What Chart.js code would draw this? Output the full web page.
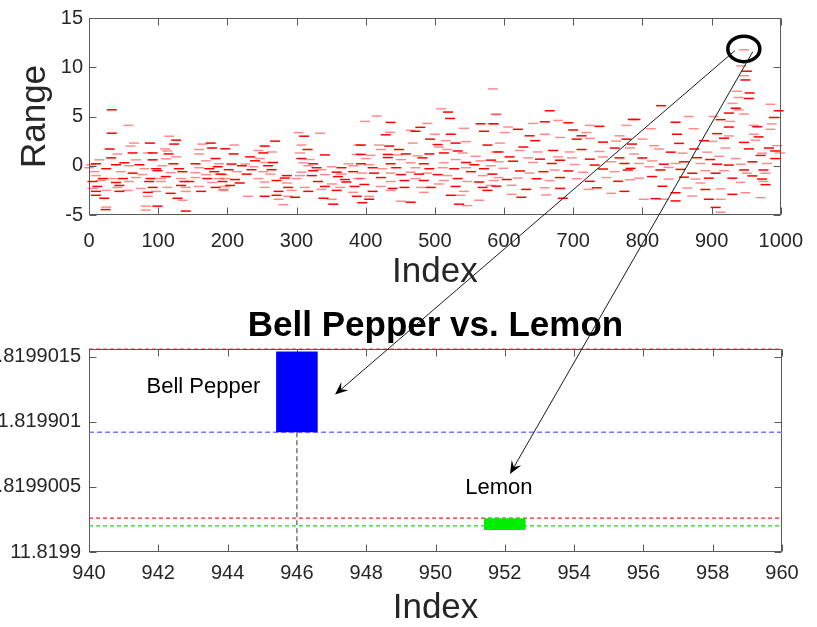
<!DOCTYPE html>
<html>
<head>
<meta charset="utf-8">
<script src="https://cdn.jsdelivr.net/npm/chart.js@4.4.1/dist/chart.umd.min.js"></script>
<style>
  html, body { margin: 0; padding: 0; background: #fff; overflow: hidden; }
  #wrap { position: relative; width: 817px; height: 627px; overflow: hidden; }
  #topBox { position: absolute; left: 0; top: 0; }
  #botBox { position: absolute; left: -20px; top: 290px; }
  #overlay { position: absolute; left: 0; top: 0; pointer-events: none; }
</style>
</head>
<body>
<div id="wrap">
  <div id="topBox"><canvas id="topChart" width="817" height="290"></canvas></div>
  <div id="botBox"><canvas id="botChart" width="837" height="337"></canvas></div>
  <canvas id="overlay" width="817" height="627"></canvas>
</div>
<script>
// ---- top panel: range dashes [index, range] ----
const rangeDashes = [
  [33,5.68],[57,4.1],[33,3.3],[116,3.0],[126,2.6],[65,2.3],[88,2.3],[60,2.0],[123,2.2],[110,1.7],
  [30,1.7],[41,1.2],[63,1.3],[85,1.3],[92,1.3],[113,1.5],[115,1.2],[126,0.9],[32,0.8],[15,0.6],
  [51,0.3],[68,0.6],[92,0.6],[111,0.7],[122,0.2],[3,0.1],[10,0.2],[0,-0.2],[39,0.1],[58,0.0],
  [73,0.1],[80,-0.3],[97,-0.3],[106,0.0],[130,-0.3],[8,-0.6],[25,-0.3],[46,-0.6],[63,-0.75],[77,-0.9],
  [99,-0.5],[118,-0.7],[135,-0.6],[10,-1.0],[20,-1.3],[34,-1.3],[49,-1.3],[68,-1.2],[89,-1.3],[104,-1.3],
  [111,-1.1],[133,-1.3],[5,-1.6],[17,-1.5],[39,-1.7],[58,-1.6],[87,-1.6],[104,-1.6],[138,-1.6],[5,-2.3],
  [12,-2.1],[41,-2.2],[44,-2.0],[75,-2.3],[92,-2.2],[113,-2.2],[133,-2.0],[140,-2.2],[10,-2.6],[25,-2.5],
  [44,-2.6],[56,-2.5],[85,-2.7],[97,-2.6],[118,-2.8],[140,-2.6],[10,-3.0],[85,-3.1],[128,-3.3],[135,-3.5],
  [22,-3.3],[25,-4.2],[24,-4.45],[82,-4.1],[99,-4.1],[82,-4.5],[140,-4.6],
  [164,2.2],[176,2.3],[159,1.65],[178,1.8],[159,1.2],[183,0.73],[169,0.5],[154,0.2],[188,0.2],[186,-0.1],
  [159,-0.2],[174,-0.3],[154,-0.7],[181,-0.6],[169,-0.9],[190,-0.85],[154,-1.2],[171,-1.3],[188,-1.3],[145,-1.6],
  [178,-1.7],[193,-1.6],[159,-2.1],[183,-2.2],[195,-2.4],[162,-2.6],
  [303,3.37],[311,3.0],[334,3.3],[269,2.5],[210,2.1],[254,2.0],[307,2.1],[316,1.65],[389,2.1],[197,1.72],
  [245,1.55],[252,1.3],[264,1.4],[209,1.2],[305,1.3],[341,1.1],[387,1.15],[233,0.9],[247,0.73],[307,0.73],
  [319,0.63],[240,0.5],[254,0.33],[266,0.33],[310,0.3],[324,0.2],[375,0.2],[206,0.17],[226,0.17],[221,0.0],
  [238,-0.1],[259,0.0],[317,0.0],[329,-0.2],[351,-0.1],[365,-0.2],[382,0.0],[202,-0.4],[214,-0.6],[235,-0.4],
  [252,-0.6],[264,-0.4],[307,-0.65],[324,-0.5],[336,-0.4],[358,-0.65],[365,-0.85],[382,-0.6],[194,-0.9],[228,-0.85],
  [262,-0.85],[286,-1.0],[305,-1.0],[322,-1.0],[341,-0.9],[360,-1.1],[197,-1.3],[211,-1.4],[245,-1.3],[283,-1.25],
  [300,-1.3],[370,-1.4],[389,-1.3],[218,-1.75],[254,-1.65],[271,-1.5],[286,-1.75],[331,-1.6],[351,-1.85],[372,-1.65],
  [197,-2.1],[204,-2.0],[254,-2.2],[288,-2.2],[312,-2.2],[341,-2.1],[363,-2.2],[384,-2.1],[194,-2.5],[274,-2.6],
  [293,-2.5],[317,-2.6],[336,-2.4],[358,-2.5],[382,-2.7],[271,-3.0],[288,-3.1],[298,-3.2],[274,-3.4],[339,-3.3],
  [351,-3.4],[387,-3.1],[230,-3.1],[254,-3.1],[281,-3.95],[353,-3.9],
  [509,5.78],[519,5.45],[416,5.05],[522,4.8],[399,4.5],[436,4.4],[489,4.3],[479,3.9],[465,3.6],[472,3.5],
  [435,3.4],[429,3.14],[500,3.2],[523,3.2],[542,3.8],[566,4.26],[583,4.26],[571,3.5],[588,5.2],[493,2.7],
  [516,2.55],[530,2.3],[545,2.45],[393,2.1],[419,2.1],[434,2.0],[468,2.3],[504,2.15],[506,1.9],[576,2.1],
  [422,1.65],[448,1.65],[518,1.65],[533,1.5],[540,1.3],[513,1.3],[588,1.4],[393,1.15],[407,1.06],[432,1.15],
  [446,1.1],[458,1.2],[475,1.0],[492,1.2],[559,0.96],[581,0.57],[400,0.73],[432,0.83],[451,0.63],[482,0.8],
  [530,0.63],[545,0.33],[566,0.5],[393,0.2],[405,0.1],[436,0.2],[465,0.3],[484,0.2],[513,0.3],[557,0.1],
  [581,0.0],[410,-0.2],[424,-0.3],[444,-0.2],[472,-0.2],[492,-0.3],[511,-0.2],[528,-0.3],[545,-0.2],[571,-0.3],
  [395,-0.75],[412,-0.75],[436,-0.75],[451,-0.9],[465,-0.65],[477,-0.85],[489,-0.75],[504,-0.9],[518,-1.0],[552,-0.6],
  [569,-1.0],[583,-0.85],[393,-1.3],[422,-1.2],[436,-1.6],[456,-1.5],[472,-1.3],[484,-1.5],[513,-1.5],[533,-1.3],
  [547,-1.6],[564,-1.65],[585,-1.5],[398,-1.9],[422,-2.1],[439,-2.3],[480,-2.2],[494,-2.2],[506,-1.85],[530,-2.1],
  [542,-2.6],[569,-2.2],[581,-2.0],[410,-2.6],[436,-2.5],[456,-2.2],[484,-2.7],[523,-3.0],[537,-3.0],[576,-2.5],
  [405,-3.1],[405,-3.4],[451,-3.6],[465,-3.7],[564,-3.5],[535,-3.9],[547,-4.05],[395,-3.75],
  [584,7.8],[666,5.58],[589,5.25],[585,4.26],[642,4.3],[659,4.46],[678,4.6],[693,4.36],[724,4.1],[738,4.0],
  [777,4.1],[786,4.7],[606,3.93],[620,3.7],[601,3.37],[700,3.63],[719,3.37],[712,3.04],[767,3.04],[637,3.04],
  [659,3.2],[645,2.55],[681,2.87],[705,2.7],[724,2.78],[743,2.4],[762,2.5],[777,2.7],[594,2.3],[628,1.9],
  [623,1.55],[592,1.4],[649,1.4],[671,1.55],[695,1.4],[712,1.65],[738,1.45],[760,1.8],[782,1.8],[608,0.9],
  [635,0.8],[652,0.67],[678,0.9],[681,0.56],[698,0.8],[724,0.67],[743,0.9],[767,0.8],[592,0.4],[613,0.46],
  [642,0.33],[669,0.23],[702,0.13],[731,0.07],[755,0.4],[774,0.23],[599,-0.26],[623,-0.53],[637,-0.75],[657,-0.6],
  [673,-0.43],[693,-0.53],[714,-0.66],[743,-0.33],[760,-0.6],[779,-0.43],[592,-1.2],[604,-1.4],[620,-1.25],[647,-1.32],
  [666,-1.5],[681,-1.2],[705,-1.32],[724,-1.58],[748,-1.2],[765,-1.58],[782,-1.42],[589,-2.07],[611,-1.98],[632,-2.4],
  [659,-2.24],[681,-2.3],[722,-2.4],[734,-2.24],[755,-2.8],[774,-2.6],[611,-2.9],[625,-3.2],[661,-2.97],[685,-3.3],
  [947,11.78],[946,10.56],[943,10.13],[951,9.6],[947,9.14],[949,8.71],[937,7.56],[955,7.39],[939,6.93],[954,6.83],
  [985,6.24],[997,5.58],[930,6.33],[935,5.84],[939,5.67],[925,5.35],[947,5.25],[827,6.1],[867,5.0],[848,4.42],
  [874,3.76],[790,4.7],[812,3.76],[850,3.2],[903,5.0],[913,4.68],[927,4.5],[925,3.93],[961,4.1],[966,3.96],
  [987,4.25],[990,4.9],[985,3.7],[908,3.26],[925,3.03],[918,2.8],[961,3.2],[968,2.93],[963,2.6],[947,2.37],
  [901,2.47],[889,2.54],[920,1.8],[983,1.8],[995,2.04],[992,1.5],[999,1.3],[971,1.05],[800,2.7],[785,2.2],
  [817,2.04],[853,2.27],[824,1.7],[841,1.38],[858,1.28],[875,1.7],[894,1.38],[898,0.63],[911,0.96],[879,0.82],
  [788,1.2],[800,0.79],[814,0.49],[831,0.16],[848,0.23],[860,0.4],[884,0.23],[908,0.16],[918,-0.5],[872,-0.76],
  [891,-0.5],[906,-0.76],[795,0.23],[783,-0.27],[810,-0.1],[826,-0.43],[838,-0.17],[855,-0.37],[795,-1.26],[814,-1.1],
  [838,-1.35],[860,-1.16],[877,-1.35],[896,-1.26],[884,-1.75],[829,-2.08],[865,-2.25],[891,-2.41],[913,-2.35],[848,-2.74],
  [802,-3.4],[819,-3.34],[831,-3.4],[848,-3.57],[872,-3.07],[896,-3.4],[913,-3.4],[906,-4.23],[913,-4.72],[954,1.71],
  [973,1.28],[975,-0.43],[978,-0.76],[973,-1.35],[975,-1.59],[978,-1.92],[971,-3.24],[992,0.73],[980,0.23],[947,-0.43],
  [951,-0.76],[930,-1.26],[942,-1.69],[959,-1.03],[949,-2.74],[930,-2.9],[935,0.73],[925,0.07],[942,0.16],[959,0.4]
];

// ---- bottom panel: zoom on index 940..960 ----
const zoomTickValues = [11.8199, 11.8199005, 11.819901, 11.8199015];
const zoomTickLabels = ["11.8199", "11.8199005", "11.819901", "11.8199015"];
const zoomYMax = 11.81990156;
const barIndex = [946, 952];
const barLow = [11.81990092, 11.81990017];
const barHigh = [11.81990154, 11.81990026];
const barColors = ["#0000ff", "#00ee00"];
const refLevels = [11.81990156, 11.81990092, 11.81990026, 11.8199002];
const refColors = ["rgba(255,0,0,0.75)", "#7878ff", "#ff2020", "#10e010"];
const pepperDrop = [[946, 11.81990092], [946, 11.8199]];

// labels / annotation anchors (data coords)
const textNotes = [
  { text: "Bell Pepper", x: 943.3, y: 11.81990127 },
  { text: "Lemon", x: 951.83, y: 11.81990049 }
];
const circleAt = { x: 946.6, y: 11.86 };
const arrowFrom = [{ x: 933.6, y: 11.68 }, { x: 959.6, y: 11.58 }];   // top panel
const arrowTo = [{ x: 947.1, y: 11.81990121 }, { x: 952.15, y: 11.8199006 }]; // bottom panel

const FONT = "'Liberation Sans', Arial, Helvetica, sans-serif";
const INK = "#262626";

// MATLAB-like box with inward ticks on all four sides
const boxTicks = {
  id: "boxTicks",
  beforeDatasetsDraw(chart) {
    const { ctx, chartArea: a, scales: { x, y } } = chart;
    ctx.save();
    ctx.strokeStyle = "#5a5a5a";
    ctx.lineWidth = 1;
    const L = Math.round(a.left) + 0.5, R = Math.round(a.right) - 0.5;
    const T = Math.round(a.top) + 0.5, B = Math.round(a.bottom) - 0.5;
    ctx.strokeRect(L, T, R - L, B - T);
    ctx.beginPath();
    x.ticks.forEach(t => {
      const p = Math.round(x.getPixelForValue(t.value)) + 0.5;
      ctx.moveTo(p, B); ctx.lineTo(p, B - 7);
      ctx.moveTo(p, T); ctx.lineTo(p, T + 7);
    });
    y.ticks.forEach(t => {
      const p = Math.round(y.getPixelForValue(t.value)) + 0.5;
      ctx.moveTo(L, p); ctx.lineTo(L + 7, p);
      ctx.moveTo(R, p); ctx.lineTo(R - 7, p);
    });
    ctx.stroke();
    ctx.restore();
  }
};

const notesPlugin = {
  id: "notes",
  afterDatasetsDraw(chart) {
    const { ctx, scales: { x, y } } = chart;
    ctx.save();
    ctx.font = "22px " + FONT;
    ctx.fillStyle = "#000";
    ctx.textAlign = "center";
    ctx.textBaseline = "middle";
    textNotes.forEach(n => ctx.fillText(n.text, x.getPixelForValue(n.x), y.getPixelForValue(n.y)));
    ctx.restore();
  }
};

const tickFont = { family: FONT, size: 20 };
const titleFont = { family: FONT, size: 35, lineHeight: 1 };

const topChart = new Chart(document.getElementById("topChart"), {
  type: "scatter",
  data: {
    datasets: [{
      data: rangeDashes.map(d => ({ x: d[0], y: d[1] })),
      showLine: false,
      pointStyle: "line",
      pointRadius: 5,
      pointBorderWidth: 1.5,
      pointBorderColor: c => (c.dataIndex % 2 ? "rgba(255,0,0,0.45)" : "#ff0000"),
      clip: false
    }]
  },
  options: {
    responsive: false,
    animation: false,
    events: [],
    layout: { padding: { left: 0, right: 35, top: 13, bottom: 0 } },
    plugins: { legend: { display: false }, tooltip: { enabled: false } },
    scales: {
      x: {
        type: "linear", min: 0, max: 1000,
        grid: { display: false, drawTicks: false },
        border: { display: false },
        ticks: { stepSize: 100, padding: 14, color: INK, font: tickFont, callback: v => String(v), maxRotation: 0 },
        title: { display: true, text: "Index", color: INK, font: titleFont, padding: { top: 0, bottom: 0 } },
        afterFit: s => { s.height = 75; }
      },
      y: {
        min: -5, max: 15,
        grid: { display: false, drawTicks: false },
        border: { display: false },
        ticks: { stepSize: 5, padding: 6, color: INK, font: tickFont, callback: v => String(v) },
        title: { display: true, text: "Range", color: INK, font: titleFont, padding: { top: 18, bottom: 0 } },
        afterFit: s => { s.width = 89; }
      }
    }
  },
  plugins: [boxTicks]
});

const refSets = refLevels.map((v, i) => ({
  type: "line",
  data: [{ x: 940, y: v }, { x: 960, y: v }],
  borderColor: refColors[i],
  borderWidth: i === 1 ? 1.6 : 1.2,
  borderDash: i === 1 ? [5, 3] : [4, 3],
  pointRadius: 0,
  clip: false
}));

const botChart = new Chart(document.getElementById("botChart"), {
  data: {
    datasets: [
      {
        type: "bar",
        data: barIndex.map((x, i) => ({ x, y: [barLow[i], barHigh[i]] })),
        backgroundColor: barColors,
        borderWidth: 0,
        barPercentage: 0.6,
        categoryPercentage: 1
      },
      ...refSets,
      {
        type: "line",
        data: pepperDrop.map(d => ({ x: d[0], y: d[1] })),
        borderColor: "#555",
        borderWidth: 1.2,
        borderDash: [5, 3],
        pointRadius: 0
      }
    ]
  },
  options: {
    responsive: false,
    animation: false,
    events: [],
    layout: { padding: { left: 0, right: 35, top: 0, bottom: 0 } },
    plugins: {
      legend: { display: false },
      tooltip: { enabled: false },
      title: {
        display: true, text: "Bell Pepper vs. Lemon", color: "#000", fullSize: false,
        font: { family: FONT, size: 35, weight: "bold", lineHeight: 1 },
        padding: { top: 19, bottom: 5 }
      }
    },
    scales: {
      x: {
        type: "linear", min: 940, max: 960, offset: false,
        grid: { display: false, drawTicks: false, offset: false },
        border: { display: false },
        ticks: { stepSize: 2, padding: 9, color: INK, font: tickFont, callback: v => String(v), maxRotation: 0 },
        title: { display: true, text: "Index", color: INK, font: titleFont, padding: { top: 0, bottom: 1.5 } },
        afterFit: s => { s.height = 75; }
      },
      y: {
        type: "linear", min: 11.8199, max: zoomYMax,
        grid: { display: false, drawTicks: false },
        border: { display: false },
        afterBuildTicks: s => { s.ticks = zoomTickValues.map(v => ({ value: v })); },
        ticks: { padding: 8, color: INK, font: tickFont, callback: (v, i) => zoomTickLabels[i] },
        afterFit: s => { s.width = 109; }
      }
    }
  },
  plugins: [boxTicks, notesPlugin]
});

// ---- overlay: circle on the top panel and arrows into the zoom panel ----
(function drawOverlay() {
  const ctx = document.getElementById("overlay").getContext("2d");
  const tx = topChart.scales.x, ty = topChart.scales.y;
  const bx = botChart.scales.x, by = botChart.scales.y;
  const off = { x: -20, y: 290 };
  const topPt = p => ({ x: tx.getPixelForValue(p.x), y: ty.getPixelForValue(p.y) });
  const botPt = p => ({ x: bx.getPixelForValue(p.x) + off.x, y: by.getPixelForValue(p.y) + off.y });

  const c = topPt(circleAt);
  ctx.strokeStyle = "#000";
  ctx.lineWidth = 3.5;
  ctx.beginPath();
  ctx.ellipse(c.x, c.y, 16, 12.7, 0, 0, Math.PI * 2);
  ctx.stroke();

  arrowFrom.forEach((f, i) => {
    const a = topPt(f), b = botPt(arrowTo[i]);
    const dx = b.x - a.x, dy = b.y - a.y, len = Math.hypot(dx, dy);
    const ux = dx / len, uy = dy / len, nx = -uy, ny = ux;
    ctx.strokeStyle = "#1a1a1a";
    ctx.lineWidth = 1;
    ctx.beginPath();
    ctx.moveTo(a.x, a.y);
    ctx.lineTo(b.x - ux * 6, b.y - uy * 6);
    ctx.stroke();
    ctx.fillStyle = "#000";
    ctx.beginPath();
    ctx.moveTo(b.x, b.y);
    ctx.lineTo(b.x - ux * 13 + nx * 5.5, b.y - uy * 13 + ny * 5.5);
    ctx.lineTo(b.x - ux * 8, b.y - uy * 8);
    ctx.lineTo(b.x - ux * 13 - nx * 5.5, b.y - uy * 13 - ny * 5.5);
    ctx.closePath();
    ctx.fill();
  });
})();
</script>
</body>
</html>
